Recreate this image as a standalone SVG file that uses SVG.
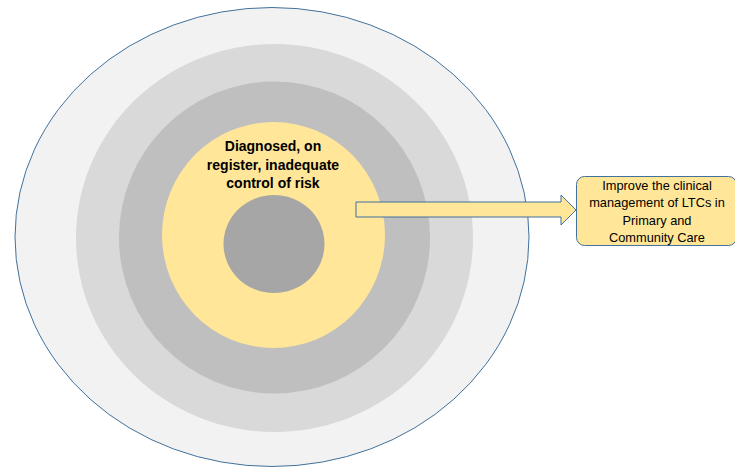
<svg xmlns="http://www.w3.org/2000/svg" width="735" height="468" viewBox="0 0 735 468">
<style>
.lbl{font-family:"Liberation Sans",Arial,sans-serif;fill:#000;text-anchor:middle}
.b{font-weight:bold;font-size:14px}
.n{font-size:12.8px}
.edge{stroke:#41719c;stroke-width:1}
</style>
<rect width="735" height="468" fill="#fff"/>
<g id="ring-outer"><ellipse cx="272" cy="237" rx="257" ry="229.5" fill="#f2f2f2" class="edge"/></g>
<g id="ring-2"><ellipse cx="274.5" cy="238" rx="198.5" ry="194" fill="#d9d9d9"/></g>
<g id="ring-3"><ellipse cx="274.5" cy="237.5" rx="155.5" ry="156" fill="#bfbfbf"/></g>
<g id="ring-yellow"><ellipse cx="273.5" cy="235" rx="111.5" ry="113" fill="#ffe699"/>
<text class="lbl b" x="273" y="151">Diagnosed, on</text>
<text class="lbl b" x="273" y="169.5">register, inadequate</text>
<text class="lbl b" x="273" y="188">control of risk</text></g>
<g id="core"><ellipse cx="274" cy="244" rx="50.5" ry="49" fill="#a6a6a6"/></g>
<g id="connectors"><path d="M356 202 H561 V195 L576 210 L561 225 V217 H356 Z" fill="#ffe699" class="edge"/></g>
<g id="target"><rect x="576.5" y="176.5" width="160" height="69" rx="8" fill="#ffe699" class="edge"/>
<text class="lbl n" x="657" y="190">Improve the clinical</text>
<text class="lbl n" x="657" y="207">management of LTCs in</text>
<text class="lbl n" x="657" y="224.5">Primary and</text>
<text class="lbl n" x="657" y="242">Community Care</text></g>
</svg>
